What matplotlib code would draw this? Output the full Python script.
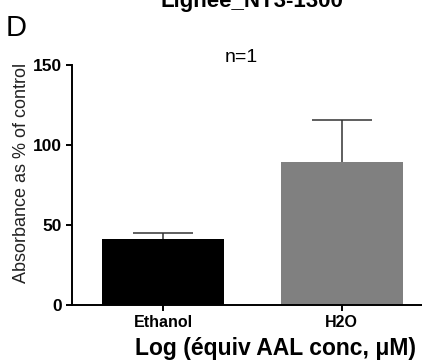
import matplotlib
matplotlib.use("Agg")
import matplotlib.pyplot as plt

categories = ["Ethanol", "H2O"]
values = [41, 89.6]
errors = [4, 26]
colors = ["#000000", "#808080"]
yticks = [0, 50, 100, 150]

plt.rcParams['font.family'] = ['Liberation Sans', 'DejaVu Sans']

fig = plt.figure(figsize=(4.22, 3.6), dpi=100)
W, H = 422, 360
ax = fig.add_axes([72 / W, 55 / H, (W - 72) / W + 0.05, 240 / H])

x = list(range(len(categories)))
ax.bar(x, values, width=0.683, color=colors, zorder=2)
eb = ax.errorbar(x, values, yerr=[[0] * len(errors), errors], fmt='none',
                 ecolor='#333333', elinewidth=1.1, capsize=21.6, capthick=1.1, zorder=1)
eb[1][0].set_visible(False)

ax.set_xlim(-0.51, 1.45 + 0.05 * W / 178.5)
ax.set_ylim(0, 150)
ax.set_yticks(yticks)
ax.set_xticks(x)
ax.set_xticklabels(categories, fontsize=11.5, fontweight='bold')
for lab in ax.get_yticklabels():
    lab.set_fontsize(12.5)
    lab.set_fontweight('bold')
ax.spines['top'].set_visible(False)
ax.spines['right'].set_visible(False)
for s in ['left', 'bottom']:
    ax.spines[s].set_linewidth(1.4)
ax.tick_params(axis='both', length=4, width=1.4, pad=3)
ax.set_xlabel("Log (équiv AAL conc, μM)", fontsize=16.5, fontweight='bold')
ax.xaxis.set_label_coords(275.5 / W, 1 - 354.5 / H, transform=fig.transFigure)
ax.xaxis.label.set_va('baseline')
ax.set_ylabel("Absorbance as % of control", fontsize=13, color='#222222')
ax.yaxis.set_label_coords(22 / W, 1 - 172.5 / H, transform=fig.transFigure)
ax.yaxis.label.set_va('center')

fig.text(251.5 / W, 1 - 7.5 / H, "Lignee_NT3-1300", fontsize=16, fontweight='bold',
         ha='center', va='baseline')
fig.text(6 / W, 1 - 36 / H, "D", fontsize=21, ha='left', va='baseline')
fig.text(241.5 / W, 1 - 62 / H, "n=1", fontsize=14, ha='center', va='baseline')

fig.savefig("out.png", dpi=100)
